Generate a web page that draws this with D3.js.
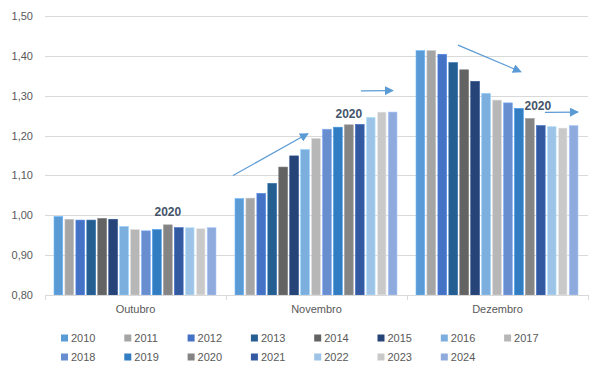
<!DOCTYPE html>
<html><head><meta charset="utf-8">
<script src="https://cdn.jsdelivr.net/npm/d3@7"></script>
<style>
body{margin:0;background:#fff;}
svg{display:block;font-family:"Liberation Sans",Arial,sans-serif;}
</style></head>
<body><svg id="c" width="603" height="384"></svg>
<script>
const months = ["Outubro","Novembro","Dezembro"];
const years = ["2010","2011","2012","2013","2014","2015","2016","2017","2018","2019","2020","2021","2022","2023","2024"];
const outubro  = [0.997,0.990,0.988,0.988,0.992,0.990,0.972,0.964,0.961,0.964,0.976,0.969,0.969,0.967,0.969];
const novembro = [1.042,1.043,1.055,1.080,1.121,1.149,1.165,1.193,1.216,1.221,1.227,1.228,1.246,1.259,1.259];
const dezembro = [1.413,1.413,1.404,1.383,1.365,1.336,1.306,1.289,1.282,1.268,1.243,1.225,1.223,1.219,1.225];
const colors = ["#5B9BD5","#A5A5A5","#4472C4","#255E91","#636363","#264478","#7CAFDD","#B7B7B7","#698ED0","#327DC2","#848484","#335AA1","#9DC3E6","#C9C9C9","#8FAADC"];
const yTicks = [0.80,0.90,1.00,1.10,1.20,1.30,1.40,1.50];
const seriesByMonth = {Outubro: outubro, Novembro: novembro, Dezembro: dezembro};

(function(){
const svg = d3.select("#c");
const pL = 45, pR = 588, pT = 16, pB = 295;
const y = d3.scaleLinear().domain([0.8,1.5]).range([pB, pT]);
const x0 = d3.scaleBand().domain(months).range([pL, pR]).padding(0);
const x1 = d3.scaleBand().domain(years).range([9, x0.bandwidth()-10]).paddingInner(0.2).paddingOuter(0);
const color = d3.scaleOrdinal().domain(years).range(colors);
const fmt = v => d3.format(".2f")(v).replace(".", ",");

// gridlines
svg.append("g").selectAll("line").data(yTicks.slice(1)).join("line")
  .attr("x1", pL).attr("x2", pR)
  .attr("y1", d => Math.round(y(d))+0.5).attr("y2", d => Math.round(y(d))+0.5)
  .attr("stroke", "#D9D9D9").attr("stroke-width", 1);

// y axis labels
const yAxis = d3.axisLeft(y).tickValues(yTicks).tickFormat(fmt).tickSize(0).tickPadding(12);
const ya = svg.append("g").attr("transform", `translate(${pL},0)`).call(yAxis);
ya.select(".domain").remove();
ya.selectAll("text").attr("fill", "#595959").attr("font-size", 11);

// bars
const groups = svg.append("g").selectAll("g").data(months).join("g")
  .attr("transform", m => `translate(${x0(m)},0)`);
groups.selectAll("rect").data(m => years.map((yr,i) => ({yr, v: seriesByMonth[m][i]}))).join("rect")
  .attr("x", d => x1(d.yr))
  .attr("width", x1.bandwidth())
  .attr("y", d => y(d.v))
  .attr("height", d => y(0.8) - y(d.v))
  .attr("fill", d => color(d.yr))
  .attr("stroke", d => d3.color(color(d.yr)).brighter(0.5))
  .attr("stroke-width", 0.6);

// x axis
const xAxis = d3.axisBottom(x0).tickSize(0).tickPadding(10);
const xa = svg.append("g").attr("transform", `translate(0,${pB})`).call(xAxis);
xa.select(".domain").attr("stroke", "#D9D9D9").attr("d", `M${pL},0.5H${pR}`);
xa.selectAll("text").attr("fill", "#595959").attr("font-size", 11);
svg.append("g").selectAll("line").data([...months.map(m => x0(m)), pR]).join("line")
  .attr("x1", d => Math.round(d)+0.5).attr("x2", d => Math.round(d)+0.5)
  .attr("y1", pB).attr("y2", pB+5).attr("stroke", "#D9D9D9");

// 2020 annotations
const ann = [{m:"Outubro", yr:"2020", v:0.997, dx:0},{m:"Novembro", yr:"2020", v:1.245, dx:0},{m:"Dezembro", yr:"2020", v:1.265, dx:8}];
svg.append("g").selectAll("text").data(ann).join("text")
  .attr("x", d => x0(d.m) + x1(d.yr) + x1.bandwidth()/2 + d.dx)
  .attr("y", d => y(d.v))
  .attr("text-anchor", "middle")
  .attr("font-weight", "bold").attr("font-size", 12).attr("fill", "#44546A")
  .text("2020");

// arrows (data units: month, offset within group, value)
const defs = svg.append("defs");
defs.append("marker").attr("id","ah").attr("viewBox","0 0 10 10").attr("refX",9).attr("refY",5)
  .attr("markerWidth",9).attr("markerHeight",9).attr("markerUnits","userSpaceOnUse").attr("orient","auto")
  .append("path").attr("d","M0,0L10,5L0,10z").attr("fill","#5B9BD5");
const arrows = [
  {m:"Novembro", dx1:7,  v1:1.100, dx2:82,  v2:1.205},
  {m:"Novembro", dx1:135, v1:1.312, dx2:167, v2:1.313},
  {m:"Dezembro", dx1:51, v1:1.427, dx2:114, v2:1.360},
  {m:"Dezembro", dx1:138, v1:1.258, dx2:171, v2:1.259}
];
svg.append("g").selectAll("line").data(arrows).join("line")
  .attr("x1", d => x0(d.m)+d.dx1).attr("y1", d => y(d.v1))
  .attr("x2", d => x0(d.m)+d.dx2).attr("y2", d => y(d.v2))
  .attr("stroke","#5B9BD5").attr("stroke-width",1.2).attr("marker-end","url(#ah)");

// legend
const leg = svg.append("g").selectAll("g").data(years).join("g")
  .attr("transform", (d,i) => `translate(${61 + (i%8)*63.3},${338 + Math.floor(i/8)*19})`);
leg.append("rect").attr("x",0).attr("y",-3.5).attr("width",7).attr("height",7).attr("fill", d => color(d));
leg.append("text").attr("x",10).attr("y",0).attr("dy","0.35em").attr("font-size",11).attr("fill","#595959").text(d => d);
})();
</script>
</body></html>
